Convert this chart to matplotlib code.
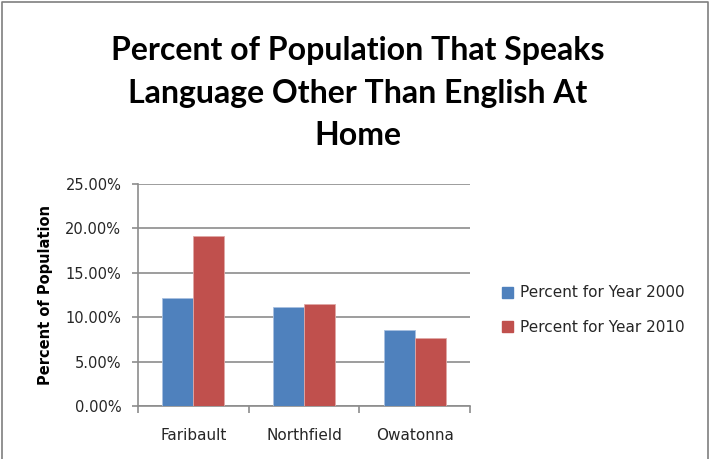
import numpy as np
import matplotlib.pyplot as plt
from matplotlib.patches import Patch
from matplotlib.ticker import FuncFormatter

plt.rcParams['font.family'] = ['DejaVu Sans']

# data
cities = ['Faribault', 'Northfield', 'Owatonna']
pct_2000 = [12.2, 11.1, 8.6]
pct_2010 = [19.2, 11.5, 7.7]
series_names = ['Percent for Year 2000', 'Percent for Year 2010']
colors = ['#4F81BD', '#C0504D']
grid_col = '#8C8C8C'
text_col = '#262626'

fig = plt.figure(figsize=(7.13, 4.59), dpi=100)
ax = fig.add_axes([138 / 713, 53 / 459, 332 / 713, 222 / 459])

x = np.arange(len(cities))
w = 0.28
ax.bar(x - w / 2, pct_2000, w, color=colors[0], edgecolor='#A8C0E0', linewidth=0.6, zorder=3)
ax.bar(x + w / 2, pct_2010, w, color=colors[1], edgecolor='#E0A8A6', linewidth=0.6, zorder=3)

ax.set_xlim(-0.5, 2.5)
ax.set_ylim(0, 25)
ax.set_yticks(np.arange(0, 26, 5))
ax.yaxis.set_major_formatter(FuncFormatter(lambda v, p: f'{v:.2f}%'))
ax.yaxis.grid(True, color=grid_col, linewidth=1.2, zorder=0)

ax.set_xticks(x)
ax.set_xticklabels(cities)
ax.set_xticks([-0.5, 0.5, 1.5, 2.5], minor=True)
ax.tick_params(axis='x', which='major', length=0, pad=16, labelsize=11, labelcolor=text_col)
ax.tick_params(axis='x', which='minor', length=5, color=grid_col, width=1.2, direction='out')
ax.tick_params(axis='y', length=4, color=grid_col, width=1.2, direction='out', pad=8,
               labelsize=10.5, labelcolor=text_col)

for s in ['top', 'right']:
    ax.spines[s].set_visible(False)
for s in ['left', 'bottom']:
    ax.spines[s].set_color(grid_col)
    ax.spines[s].set_linewidth(1.2)

ax.set_ylabel('Percent of Population', fontsize=10.5, fontweight='bold', labelpad=9)

fig.text(358 / 713, 1 - 93 / 459,
         'Percent of Population That Speaks\nLanguage Other Than English At\nHome',
         ha='center', va='center', fontsize=23, fontweight='bold', linespacing=1.55,
         family=['Lato', 'DejaVu Sans'])

handles = [Patch(color=c) for c in colors]
fig.legend(handles, series_names, loc='center left', bbox_to_anchor=(488 / 713, 1 - 310 / 459),
           frameon=False, fontsize=11, handlelength=0.72, handleheight=0.72,
           labelspacing=1.25, handletextpad=0.5, labelcolor=text_col)

# frame around chart area
fig.add_artist(plt.Line2D([2 / 713, 2 / 713, 708 / 713, 708 / 713],
                          [0, 1 - 2 / 459, 1 - 2 / 459, 0],
                          transform=fig.transFigure, color='#7F7F7F', linewidth=1.2))

fig.savefig('out.png', dpi=100)
